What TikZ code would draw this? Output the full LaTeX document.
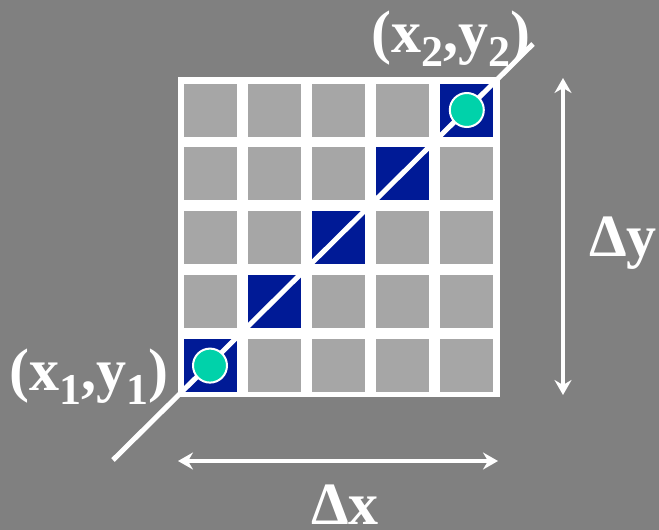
\documentclass[tikz,border=0pt]{standalone}
\usepackage{fontspec}
\setmainfont{Liberation Serif}
\usetikzlibrary{arrows.meta}
\definecolor{bgc}{HTML}{808080}
\definecolor{cellc}{HTML}{A6A6A6}
\definecolor{hitc}{HTML}{001A96}
\definecolor{dotc}{HTML}{00D2AA}
\newcommand{\lbl}[1]{\fontsize{60}{64}\selectfont\bfseries #1}
\newcommand{\sbs}[1]{\raisebox{-0.24em}{\fontsize{44}{44}\selectfont #1}}
\tikzset{
  cellbox/.style={rectangle, fill=cellc, minimum size=53pt, inner sep=0pt, outer sep=0pt},
  hitbox/.style={cellbox, fill=hitc},
  dotnode/.style={circle, fill=dotc, draw=white, line width=2pt, minimum size=34pt, inner sep=0pt},
  txt/.style={text=white, inner sep=0pt, anchor=base west},
  wline/.style={white, line width=5pt},
  dimarrow/.style={white, line width=4pt, {Stealth[length=15pt,width=17pt,inset=5pt]}-{Stealth[length=15pt,width=17pt,inset=5pt]}},
}
\begin{document}
\begin{tikzpicture}[x=1pt,y=-1pt]
\fill[bgc] (0,0) rectangle (659,530);
\useasboundingbox (0,0) rectangle (659,530);
\node[fill=white, minimum width=322pt, minimum height=320pt, inner sep=0pt, anchor=north west] (grid) at (177.5,77) {};
\foreach \i in {0,...,4}{
  \foreach \j in {0,...,4}{
    \pgfmathtruncatemacro{\d}{\i+\j}
    \ifnum\d=4
      \node[hitbox] (c\i\j) at (210+64.2*\i,110+63.9*\j) {};
    \else
      \node[cellbox] (c\i\j) at (210+64.2*\i,110+63.9*\j) {};
    \fi
  }
}
\coordinate (lstart) at (113,460);
\coordinate (lend) at (533,44);
\draw[wline, line cap=butt] (lstart) -- (lend);
\node[dotnode] (p1) at (c04) {};
\node[dotnode] (p2) at (c40) {};
\node[txt] (l1) at (9,390) {\lbl{(x\sbs{1},y\sbs{1})}};
\node[txt] (l2) at (371,52) {\lbl{(x\sbs{2},y\sbs{2})}};
\node[txt] (dy) at (589,256) {\lbl{Δy}};
\node[txt] (dx) at (311,524) {\lbl{Δx}};
\coordinate (vt) at (563,78);
\coordinate (vb) at (563,395);
\coordinate (hl) at (178,461);
\coordinate (hr) at (498,461);
\draw[dimarrow] (vt) -- (vb);
\draw[dimarrow] (hl) -- (hr);
\end{tikzpicture}
\end{document}
